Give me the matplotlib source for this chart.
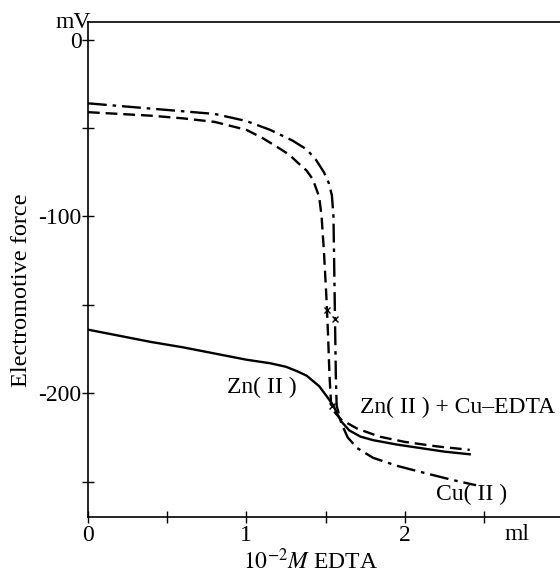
import matplotlib
matplotlib.use('Agg')
import matplotlib.pyplot as plt
import numpy as np

plt.rcParams['font.family'] = ['Liberation Serif', 'DejaVu Serif']
plt.rcParams['mathtext.fontset'] = 'stix'
plt.rcParams['axes.unicode_minus'] = False

# titration curves, ml of 10^-2 M EDTA vs e.m.f. (mV)
cu_ml = [0, 0.2, 0.4, 0.6, 0.8, 1.0, 1.15, 1.29, 1.38, 1.44, 1.49, 1.52, 1.54,
         1.55, 1.555, 1.56, 1.565, 1.57, 1.6, 1.64, 1.7, 1.8, 1.95, 2.1, 2.3, 2.45]
cu_mv = [-36, -37.5, -39, -40.5, -42, -46, -51, -57, -62, -68, -75, -81, -88,
         -100, -130, -160, -190, -207, -217, -225, -231, -236.5, -241, -244.5, -249, -252]

zn_cu_ml = [0, 0.2, 0.4, 0.6, 0.8, 1.0, 1.1, 1.2, 1.27, 1.33, 1.38, 1.42, 1.46,
            1.475, 1.49, 1.505, 1.515, 1.525, 1.535, 1.56, 1.6, 1.7, 1.84, 2.0, 2.2, 2.41]
zn_cu_mv = [-41, -42, -43, -44.5, -46.5, -51, -55.5, -61, -65, -70, -74, -79, -89,
            -100, -120, -145, -165, -190, -206, -211, -215, -220, -224.5, -227.5, -230, -232]

zn_ml = [0, 0.2, 0.4, 0.6, 0.8, 1.0, 1.15, 1.25, 1.32, 1.38, 1.46, 1.51, 1.55,
         1.57, 1.6, 1.65, 1.72, 1.8, 1.95, 2.1, 2.25, 2.41]
zn_mv = [-164, -167.5, -171, -174, -177.5, -181, -183, -185, -187.5, -190, -196, -202, -207,
         -211, -216, -221, -224.5, -226.5, -229, -231, -233, -234.5]

# end points marked on the curves
end_ml = [1.51, 1.56, 1.54]
end_mv = [-153, -158, -207]

fig = plt.figure(figsize=(5.6, 5.79), dpi=100)
ax = fig.add_axes([0.157, 0.107, 0.843, 0.855])

ax.plot(cu_ml, cu_mv, color='black', lw=1.7, dashes=(8, 2.5, 1.5, 2.5))
ax.plot(zn_cu_ml, zn_cu_mv, color='black', lw=1.7, dashes=(5, 2.5))
ax.plot(zn_ml, zn_mv, color='black', lw=1.7)
ax.plot(end_ml, end_mv, 'x', color='black', ms=5, mew=1)

ax.set_xlim(0, 2.98)
ax.set_ylim(-270, 10)

ax.spines['right'].set_visible(False)
for s in ['left', 'top', 'bottom']:
    ax.spines[s].set_linewidth(1.2)

ax.set_xticks([0, 1, 2])
ax.set_xticks([0.5, 1.5, 2.5], minor=True)
ax.set_yticks([0, -100, -200])
ax.set_yticks([-50, -150, -250], minor=True)
ax.tick_params(which='both', direction='inout', length=9, width=1, labelsize=17, pad=1)
ax.tick_params(axis='y', pad=0)

ax.set_xlabel(r'$10^{-2}\mathit{M}$ EDTA', fontsize=17)
ax.xaxis.set_label_coords(0.472, -0.064)
ax.set_ylabel('Electromotive force', fontsize=17.5)
ax.yaxis.set_label_coords(-0.119, 0.459)

ax.text(-0.095, 10, 'mV', fontsize=17, ha='center', va='center', clip_on=False)
ax.text(2.71, -280, 'ml', fontsize=17, ha='center', va='center', clip_on=False)

ax.text(1.1, -196.5, 'Zn( II )', fontsize=17, ha='center', va='center')
ax.text(1.72, -208, 'Zn( II ) + Cu–EDTA', fontsize=17, ha='left', va='center')
ax.text(2.42, -257, 'Cu( II )', fontsize=17, ha='center', va='center')

fig.savefig('out.png', dpi=100)
